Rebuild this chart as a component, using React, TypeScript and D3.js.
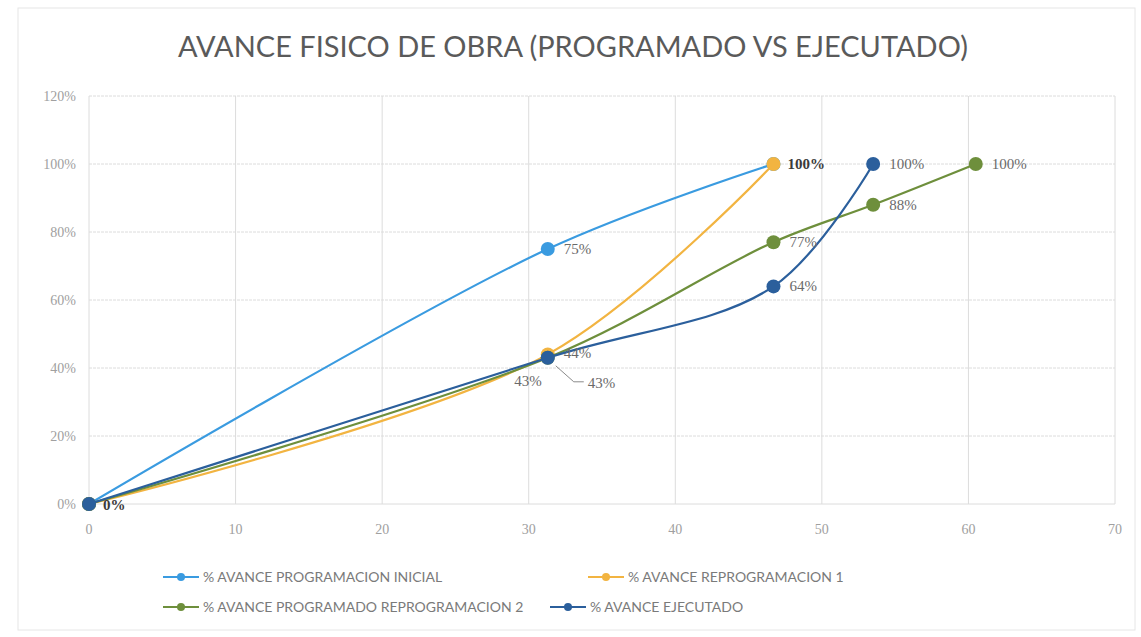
import React from 'react';
import * as d3 from 'd3';

// Values (x = days, y = fraction of progress)
const inicialX = [0, 31.3, 46.7];
const inicialY = [0, 0.75, 1.0];
const reprog1X = [0, 31.3, 46.7];
const reprog1Y = [0, 0.44, 1.0];
const reprog2X = [0, 31.3, 46.7, 53.5, 60.5];
const reprog2Y = [0, 0.43, 0.77, 0.88, 1.0];
const ejecutadoX = [0, 31.3, 46.7, 53.5];
const ejecutadoY = [0, 0.43, 0.64, 1.0];

const xTicks = [0, 10, 20, 30, 40, 50, 60, 70];
const yTicks = [0, 0.2, 0.4, 0.6, 0.8, 1.0, 1.2];

const seriesNames = [
  '% AVANCE  PROGRAMACION INICIAL',
  '% AVANCE  REPROGRAMACION 1',
  '% AVANCE  PROGRAMADO REPROGRAMACION 2',
  '% AVANCE  EJECUTADO',
];
const seriesColors = ['#3a9be0', '#f2b441', '#6e8f3c', '#2b5f9c'];

const title = 'AVANCE FISICO DE OBRA (PROGRAMADO VS EJECUTADO)';

type Pt = [number, number];

// label offsets per series / point (dx, dy, anchor)
const labelPlace: [number, number, string][][] = [
  [[0, 0, 'none'], [16, 5, 'start'], [0, 0, 'none']],
  [[0, 0, 'none'], [16, 4, 'start'], [14, 5, 'start']],
  [[0, 0, 'none'], [-6, 28, 'end'], [16, 5, 'start'], [16, 5, 'start'], [16, 5, 'start']],
  [[14, 6, 'start'], [40, 30, 'start'], [16, 5, 'start'], [16, 5, 'start']],
];

export default function App() {
  const width = 1141;
  const height = 637;
  const left = 89;
  const right = 1115;
  const top = 96;
  const bottom = 504;

  const x = d3.scaleLinear().domain([0, 70]).range([left, right]);
  const y = d3.scaleLinear().domain([0, 1.2]).range([bottom, top]);

  const seriesX = [inicialX, reprog1X, reprog2X, ejecutadoX];
  const seriesY = [inicialY, reprog1Y, reprog2Y, ejecutadoY];
  const data: Pt[][] = seriesX.map((xs, i) => xs.map((v, j) => [v, seriesY[i][j]] as Pt));

  const line = d3
    .line<Pt>()
    .x((d) => x(d[0]))
    .y((d) => y(d[1]))
    .curve(d3.curveCatmullRom.alpha(0.5));

  const pct = d3.format('.0%');
  const axisFont = "'Liberation Serif', serif";
  const sansFont = "Lato, 'Open Sans', sans-serif";

  const legendItems = [
    {i: 0, lx: 163, ly: 577},
    {i: 1, lx: 588, ly: 577},
    {i: 2, lx: 163, ly: 607},
    {i: 3, lx: 550, ly: 607},
  ];

  return (
    <svg
      width={width}
      height={height}
      style={{position: 'absolute', left: 0, top: 0, background: '#fff'}}
    >
      <rect x={18} y={8} width={1117} height={622} fill="#fff" stroke="#e6e6e6" />
      <text
        x={573}
        y={57}
        textAnchor="middle"
        fontFamily={sansFont}
        fontSize={28}
        fill="#5a5a5a"
        textLength={790}
        lengthAdjust="spacingAndGlyphs"
      >
        {title}
      </text>

      {/* grid */}
      <g stroke="#dcdcdc" strokeWidth={1}>
        {yTicks.map((t) => (
          <line key={'h' + t} x1={left} x2={right} y1={y(t)} y2={y(t)} strokeDasharray={t === 0 ? undefined : '3,1'} />
        ))}
        {xTicks.map((t) => (
          <line key={'v' + t} x1={x(t)} x2={x(t)} y1={top} y2={bottom} />
        ))}
      </g>

      {/* axis labels */}
      <g fontFamily={axisFont} fontSize={14} fill="#a0a0a0">
        {yTicks.map((t) => (
          <text key={'yl' + t} x={76} y={y(t) + 5} textAnchor="end">
            {pct(t)}
          </text>
        ))}
        {xTicks.map((t) => (
          <text key={'xl' + t} x={x(t)} y={534} textAnchor="middle">
            {t}
          </text>
        ))}
      </g>

      {/* series */}
      {data.map((pts, i) => (
        <g key={'s' + i}>
          <path d={line(pts) || ''} fill="none" stroke={seriesColors[i]} strokeWidth={2.2} />
          {pts.map((p, j) => (
            <circle key={j} cx={x(p[0])} cy={y(p[1])} r={7} fill={seriesColors[i]} />
          ))}
        </g>
      ))}

      {/* leader line for ejecutado 43% */}
      <path
        d={`M${x(ejecutadoX[1]) + 8},${y(ejecutadoY[1]) + 8} L${x(ejecutadoX[1]) + 26},${y(ejecutadoY[1]) + 24} L${x(ejecutadoX[1]) + 36},${y(ejecutadoY[1]) + 24}`}
        fill="none"
        stroke="#8a8a8a"
        strokeWidth={1}
      />

      {/* data labels */}
      <g fontFamily={axisFont} fontSize={15}>
        {data.map((pts, i) =>
          pts.map((p, j) => {
            const [dx, dy, anchor] = labelPlace[i][j];
            if (anchor === 'none') return null;
            const strong = (i === 1 && j === 2) || (i === 3 && j === 0);
            return (
              <text
                key={'l' + i + j}
                x={x(p[0]) + dx}
                y={y(p[1]) + dy}
                textAnchor={anchor as any}
                fill={strong ? '#3a3a3a' : '#6a6a6a'}
                fontWeight={strong ? 'bold' : 'normal'}
              >
                {pct(p[1])}
              </text>
            );
          }),
        )}
      </g>

      {/* legend */}
      <g fontFamily={sansFont} fontSize={14} fill="#7a7a7a">
        {legendItems.map(({i, lx, ly}) => (
          <g key={'lg' + i}>
            <line x1={lx} x2={lx + 36} y1={ly} y2={ly} stroke={seriesColors[i]} strokeWidth={2.2} />
            <circle cx={lx + 18} cy={ly} r={4} fill={seriesColors[i]} />
            <text x={lx + 40} y={ly + 5}>
              {seriesNames[i]}
            </text>
          </g>
        ))}
      </g>
    </svg>
  );
}
